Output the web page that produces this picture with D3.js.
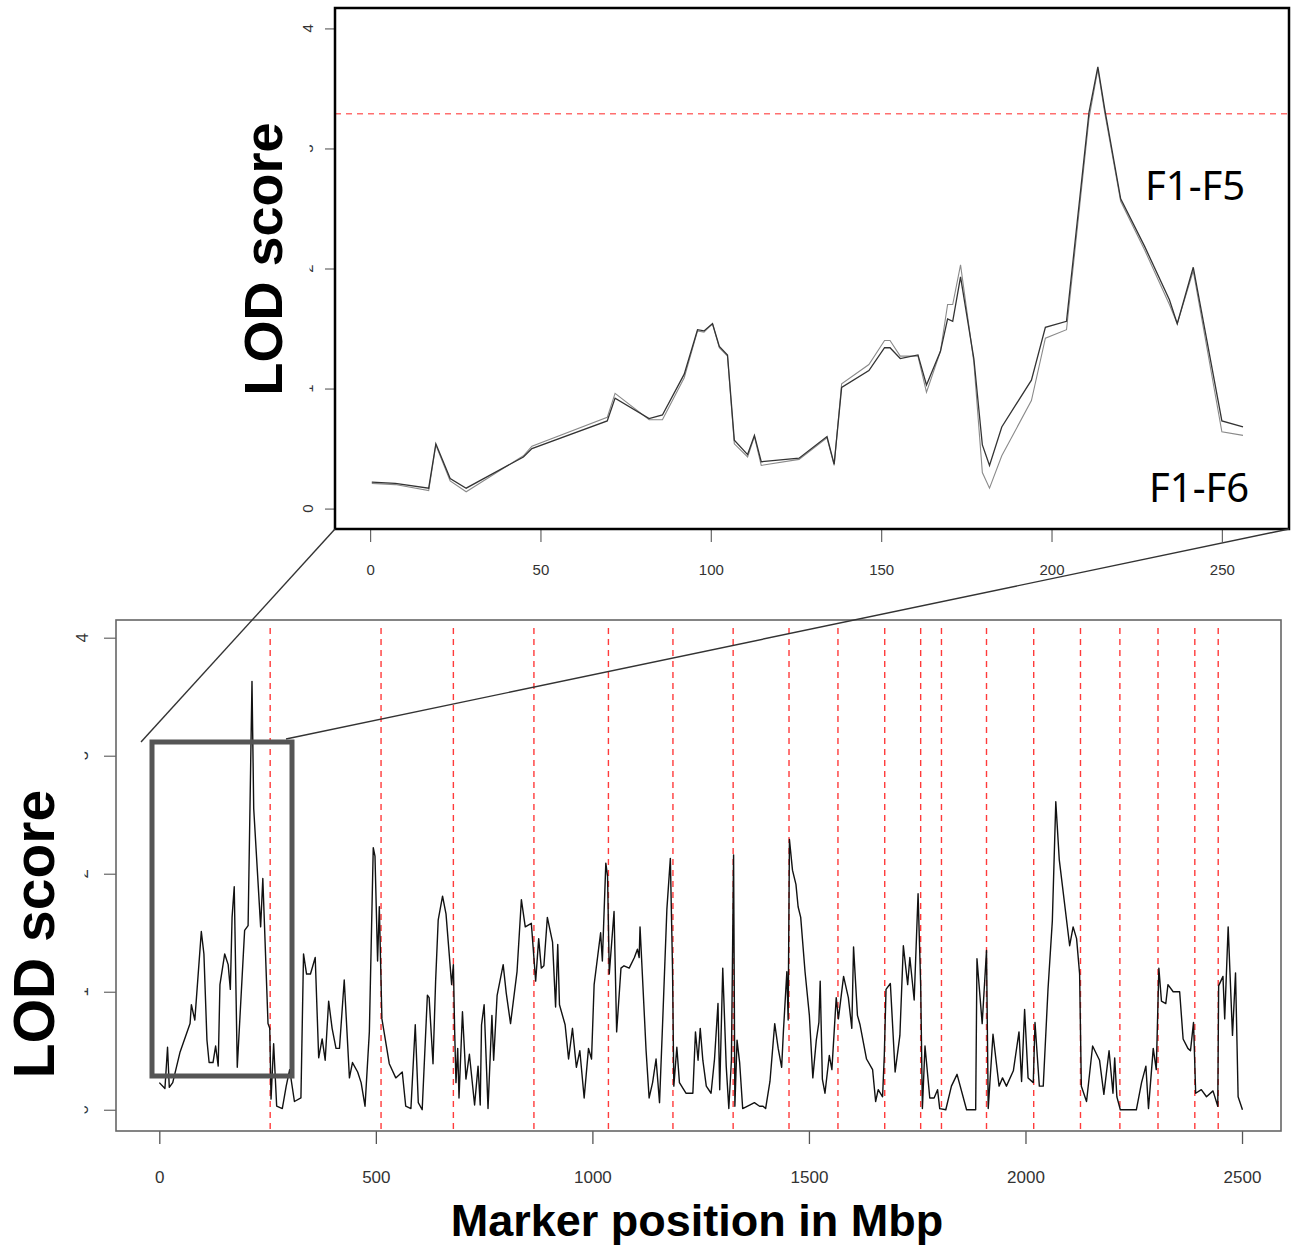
<!DOCTYPE html>
<html>
<head>
<meta charset="utf-8">
<script src="https://cdn.jsdelivr.net/npm/d3@7"></script>
<style>
  body { margin: 0; background: #fff; }
  svg { display: block; }
  .tick text { font-family: "Liberation Sans", Arial, sans-serif; fill: #333; }
</style>
</head>
<body>
<div id="chart"></div>
<script>
// Zoomed view, first 260 Mbp (two generations compared)
const zoomPos = [0.5, 7.4, 17.2, 19.3, 23.5, 28.2, 45, 47.5, 69.6, 71.9, 81.9, 85.8, 92.2, 96.1, 98, 100.5,
  102.5, 104.9, 106.9, 110.8, 112.8, 114.8, 125.9, 134.1, 136.2, 138.4, 146.4, 151, 152.6, 155.6, 160.8,
  163.3, 167.4, 169.5, 171, 173.3, 177.2, 179.7, 181.8, 185.4, 194.1, 198.2, 204.4, 211, 213.6, 215.6,
  220.3, 227.4, 234.6, 236.9, 241.6, 250, 256.2];
const lodF5 = [0.22, 0.21, 0.17, 0.54, 0.25, 0.17, 0.43, 0.50, 0.73, 0.92, 0.75, 0.78, 1.12, 1.49, 1.48, 1.54,
  1.35, 1.28, 0.57, 0.45, 0.61, 0.39, 0.42, 0.60, 0.37, 1.01, 1.15, 1.34, 1.34, 1.25, 1.28,
  1.03, 1.31, 1.58, 1.56, 1.93, 1.25, 0.53, 0.36, 0.68, 1.07, 1.51, 1.56, 3.30, 3.68, 3.33,
  2.58, 2.18, 1.74, 1.54, 2.01, 0.73, 0.68];
const lodF6 = [0.21, 0.20, 0.15, 0.53, 0.23, 0.14, 0.44, 0.52, 0.76, 0.96, 0.74, 0.74, 1.09, 1.48, 1.47, 1.54,
  1.34, 1.27, 0.54, 0.43, 0.60, 0.36, 0.41, 0.59, 0.36, 1.04, 1.20, 1.40, 1.40, 1.27, 1.27,
  0.97, 1.31, 1.70, 1.70, 2.03, 1.22, 0.30, 0.17, 0.44, 0.90, 1.42, 1.49, 3.25, 3.66, 3.30,
  2.56, 2.15, 1.70, 1.54, 1.98, 0.64, 0.61];
const threshold = 3.29;

// Whole genome scan
const genomePos = [0, 13, 19, 23, 31, 48, 71, 74, 82, 97, 103, 110, 115, 124, 130, 136, 140, 151, 159, 164, 168,
  173, 180, 197, 205, 214, 218, 234, 239, 251, 255, 258, 264, 271, 284, 293, 301, 312, 327, 333, 340, 349,
  360, 368, 376, 383, 391, 399, 408, 416, 427, 439, 446, 458, 466, 475, 485, 494, 498, 504, 508, 514, 531,
  546, 561, 569, 581, 591, 598, 607, 619, 623, 632, 638, 644, 654, 662, 675, 679, 682, 685, 689, 692, 700,
  708, 716, 728, 736, 741, 744, 750, 759, 768, 772, 780, 794, 801, 811, 826, 836, 845, 859, 869, 876, 882,
  888, 896, 908, 915, 920, 924, 937, 945, 954, 963, 971, 981, 991, 998, 1004, 1019, 1023, 1031, 1035, 1039,
  1050, 1056, 1066, 1073, 1085, 1097, 1104, 1108, 1110, 1124, 1131, 1139, 1147, 1155, 1162, 1172, 1180,
  1185, 1188, 1195, 1201, 1216, 1232, 1238, 1244, 1249, 1255, 1263, 1274, 1282, 1290, 1294, 1301, 1309,
  1315, 1321, 1326, 1329, 1334, 1340, 1347, 1363, 1374, 1386, 1394, 1400, 1410, 1421, 1429, 1437, 1441,
  1449, 1452, 1455, 1462, 1470, 1475, 1481, 1491, 1501, 1509, 1517, 1523, 1526, 1531, 1537, 1547, 1553,
  1563, 1568, 1580, 1591, 1599, 1603, 1612, 1618, 1633, 1647, 1654, 1660, 1670, 1674, 1678, 1688, 1699,
  1710, 1718, 1728, 1733, 1743, 1752, 1758, 1762, 1768, 1779, 1789, 1797, 1802, 1816, 1829, 1842, 1864,
  1885, 1888, 1900, 1910, 1914, 1925, 1939, 1947, 1956, 1972, 1985, 1991, 1998, 2006, 2018, 2022, 2032,
  2041, 2052, 2062, 2070, 2078, 2102, 2110, 2118, 2125, 2129, 2141, 2155, 2171, 2181, 2193, 2202, 2206,
  2211, 2219, 2256, 2268, 2278, 2284, 2295, 2302, 2308, 2314, 2324, 2329, 2341, 2356, 2364, 2375, 2381,
  2388, 2393, 2406, 2418, 2433, 2444, 2446, 2456, 2460, 2468, 2478, 2485, 2491, 2501];
const genomeLod = [0.23, 0.18, 0.53, 0.19, 0.23, 0.49, 0.73, 0.89, 0.76, 1.51, 1.32, 0.59, 0.40, 0.40, 0.54, 0.37,
  1.06, 1.32, 1.23, 1.02, 1.63, 1.89, 0.36, 1.52, 1.56, 3.63, 2.55, 1.55, 1.96, 0.73, 0.69, 0.09, 0.56, 0.03,
  0.01, 0.20, 0.34, 0.07, 0.10, 1.32, 1.15, 1.15, 1.29, 0.44, 0.60, 0.42, 0.92, 0.69, 0.52, 0.52, 1.10, 0.27,
  0.40, 0.32, 0.23, 0.03, 0.66, 2.22, 2.15, 1.26, 1.72, 0.77, 0.39, 0.27, 0.32, 0.03, 0.01, 0.72, 0.06, 0.00,
  0.97, 0.95, 0.39, 1.09, 1.61, 1.81, 1.66, 1.06, 1.23, 0.66, 0.23, 0.52, 0.10, 0.83, 0.26, 0.47, 0.04, 0.37,
  0.04, 0.72, 0.89, 0.01, 0.80, 0.42, 0.97, 1.23, 0.99, 0.73, 1.17, 1.78, 1.55, 1.58, 1.09, 1.45, 1.20, 1.22,
  1.63, 1.42, 0.87, 1.40, 0.89, 0.72, 0.43, 0.69, 0.36, 0.50, 0.10, 0.52, 0.43, 1.06, 1.50, 1.26, 2.09, 1.98,
  1.15, 1.68, 0.66, 1.20, 1.22, 1.20, 1.29, 1.36, 1.29, 1.55, 0.50, 0.10, 0.23, 0.43, 0.06, 0.72, 1.70, 2.13,
  1.20, 0.20, 0.53, 0.23, 0.14, 0.14, 0.66, 0.42, 0.69, 0.42, 0.20, 0.14, 0.43, 0.90, 0.17, 1.20, 0.37, 0.01,
  0.42, 2.16, 0.03, 0.59, 0.40, 0.01, 0.04, 0.06, 0.03, 0.03, 0.01, 0.24, 0.73, 0.52, 0.36, 0.66, 1.17, 0.76,
  2.29, 2.03, 1.91, 1.72, 1.63, 1.17, 0.80, 0.27, 0.59, 0.74, 1.09, 0.26, 0.14, 0.46, 0.34, 0.95, 0.77, 1.13,
  0.95, 0.69, 1.38, 0.80, 0.72, 0.43, 0.34, 0.07, 0.17, 0.11, 0.46, 1.02, 1.07, 0.32, 0.63, 1.39, 1.06, 1.29,
  0.93, 1.83, 1.06, 0.01, 0.54, 0.10, 0.10, 0.17, 0.01, 0.00, 0.20, 0.30, 0.00, 0.00, 1.28, 0.73, 1.35, 0.01,
  0.64, 0.20, 0.27, 0.20, 0.33, 0.66, 0.24, 0.85, 0.27, 0.23, 0.74, 0.20, 0.20, 1.02, 1.60, 2.61, 2.12, 1.39,
  1.55, 1.45, 1.15, 0.20, 0.07, 0.54, 0.42, 0.13, 0.50, 0.14, 0.44, 0.11, 0.00, 0.00, 0.23, 0.37, 0.01, 0.52,
  0.34, 1.20, 0.92, 0.90, 1.06, 1.00, 1.00, 0.60, 0.52, 0.50, 0.74, 0.14, 0.17, 0.11, 0.16, 0.03, 1.05, 1.13,
  0.77, 1.55, 0.63, 1.16, 0.11, 0.00];

// chromosome boundaries (Mbp)
const chromBreaks = [256, 512, 679, 865, 1037, 1186, 1325, 1454, 1567, 1675, 1758, 1806, 1910, 2019, 2127,
  2218, 2306, 2391, 2445];

const zoomTicks = [0, 50, 100, 150, 200, 250];
const genomeTicks = [0, 500, 1000, 1500, 2000, 2500];
const lodTicks = [0, 1, 2, 3, 4];

const W = 1296, H = 1245;
const svg = d3.select('#chart').append('svg')
  .attr('width', W).attr('height', H);
svg.append('rect').attr('width', W).attr('height', H).attr('fill', '#fff');

const defs = svg.append('defs');

// rotated y tick labels; some are only partly visible in the figure
function yLabels(g, yScale, baseX, size, partial, id) {
  lodTicks.forEach((t) => {
    const y = yScale(t);
    let holder = g;
    if (partial.includes(t)) {
      const cid = `clip-${id}-${t}`;
      defs.append('clipPath').attr('id', cid)
        .append('rect').attr('x', baseX - 3.5).attr('y', y - 8).attr('width', 5).attr('height', 16);
      holder = g.append('g').attr('clip-path', `url(#${cid})`);
    }
    holder.append('text')
      .attr('transform', `translate(${baseX},${y}) rotate(-90)`)
      .attr('text-anchor', 'middle')
      .attr('font-family', '"Liberation Sans", Arial, sans-serif')
      .attr('font-size', size)
      .attr('fill', '#333')
      .text(t);
  });
}

// ---------- top (zoomed) panel ----------
const topBox = { left: 335, right: 1289, top: 8, bottom: 529 };
const xTop = d3.scaleLinear().domain([-10.3, 269.7]).range([topBox.left, topBox.right]);
const yTop = d3.scaleLinear().domain([-0.17, 4.17]).range([topBox.bottom, topBox.top]);

const gTop = svg.append('g');

gTop.append('line')
  .attr('x1', topBox.left).attr('x2', topBox.right)
  .attr('y1', yTop(threshold)).attr('y2', yTop(threshold))
  .attr('stroke', '#ff6f6f').attr('stroke-width', 1.5).attr('stroke-dasharray', '6,5');

const lineTop = d3.line().x((d) => xTop(d[0])).y((d) => yTop(d[1]));
gTop.append('path')
  .datum(zoomPos.map((p, i) => [p, lodF6[i]]))
  .attr('d', lineTop).attr('fill', 'none')
  .attr('stroke', '#8a8a8a').attr('stroke-width', 1.1);
gTop.append('path')
  .datum(zoomPos.map((p, i) => [p, lodF5[i]]))
  .attr('d', lineTop).attr('fill', 'none')
  .attr('stroke', '#333').attr('stroke-width', 1.3);

gTop.append('g')
  .attr('transform', `translate(0,${topBox.bottom})`)
  .call(d3.axisBottom(xTop).tickValues(zoomTicks).tickSize(13).tickPadding(22).tickFormat(d3.format('d')))
  .call((g) => g.select('.domain').remove())
  .call((g) => g.selectAll('line').attr('stroke', '#666').attr('stroke-width', 1.2))
  .call((g) => g.selectAll('text').attr('font-size', 15));

gTop.append('g')
  .attr('transform', `translate(${topBox.left},0)`)
  .call(d3.axisLeft(yTop).tickValues(lodTicks).tickSize(10).tickFormat(''))
  .call((g) => g.select('.domain').remove())
  .call((g) => g.selectAll('line').attr('stroke', '#666').attr('stroke-width', 1.2));
yLabels(gTop, yTop, 313, 15, [1, 2, 3], 'top');

gTop.append('rect')
  .attr('x', topBox.left).attr('y', topBox.top)
  .attr('width', topBox.right - topBox.left).attr('height', topBox.bottom - topBox.top)
  .attr('fill', 'none').attr('stroke', '#000').attr('stroke-width', 2.5);

gTop.append('text')
  .attr('transform', `translate(282,259) rotate(-90)`)
  .attr('text-anchor', 'middle')
  .attr('font-family', '"Liberation Sans", Arial, sans-serif')
  .attr('font-weight', 'bold').attr('font-size', 54)
  .text('LOD score');

gTop.append('text').attr('x', 1145).attr('y', 200)
  .attr('font-family', '"Noto Sans", sans-serif').attr('font-size', 40)
  .text('F1-F5');
gTop.append('text').attr('x', 1149).attr('y', 502)
  .attr('font-family', '"Noto Sans", sans-serif').attr('font-size', 40)
  .text('F1-F6');

// ---------- bottom (genome) panel ----------
const botBox = { left: 116, right: 1281, top: 620, bottom: 1131 };
const xBot = d3.scaleLinear().domain([-100, 2590]).range([botBox.left, botBox.right]);
const yBot = d3.scaleLinear().domain([-0.18, 4.15]).range([botBox.bottom, botBox.top]);

const gBot = svg.append('g');

gBot.selectAll('line.chrom')
  .data(chromBreaks)
  .join('line')
  .attr('class', 'chrom')
  .attr('x1', (d) => xBot(d)).attr('x2', (d) => xBot(d))
  .attr('y1', botBox.top + 8).attr('y2', botBox.bottom)
  .attr('stroke', '#ff3b3b').attr('stroke-width', 1.4).attr('stroke-dasharray', '6,5');

gBot.append('path')
  .datum(genomePos.map((p, i) => [p, genomeLod[i]]))
  .attr('d', d3.line().x((d) => xBot(d[0])).y((d) => yBot(d[1])))
  .attr('fill', 'none').attr('stroke', '#111').attr('stroke-width', 1.4)
  .attr('stroke-linejoin', 'round');

gBot.append('g')
  .attr('transform', `translate(0,${botBox.bottom})`)
  .call(d3.axisBottom(xBot).tickValues(genomeTicks).tickSize(13).tickPadding(27).tickFormat(d3.format('d')))
  .call((g) => g.select('.domain').remove())
  .call((g) => g.selectAll('line').attr('stroke', '#555').attr('stroke-width', 1.3))
  .call((g) => g.selectAll('text').attr('font-size', 17));

gBot.append('g')
  .attr('transform', `translate(${botBox.left},0)`)
  .call(d3.axisLeft(yBot).tickValues(lodTicks).tickSize(12).tickFormat(''))
  .call((g) => g.select('.domain').remove())
  .call((g) => g.selectAll('line').attr('stroke', '#666').attr('stroke-width', 1.2));
yLabels(gBot, yBot, 88, 17, [0, 1, 2, 3], 'bot');

gBot.append('rect')
  .attr('x', botBox.left).attr('y', botBox.top)
  .attr('width', botBox.right - botBox.left).attr('height', botBox.bottom - botBox.top)
  .attr('fill', 'none').attr('stroke', '#666').attr('stroke-width', 1.6);

gBot.append('text')
  .attr('transform', `translate(54,934) rotate(-90)`)
  .attr('text-anchor', 'middle')
  .attr('font-family', '"Liberation Sans", Arial, sans-serif')
  .attr('font-weight', 'bold').attr('font-size', 57)
  .text('LOD score');

gBot.append('text')
  .attr('x', 697).attr('y', 1236)
  .attr('text-anchor', 'middle')
  .attr('font-family', '"Liberation Sans", Arial, sans-serif')
  .attr('font-weight', 'bold').attr('font-size', 45)
  .text('Marker position in Mbp');

// zoom window and connectors
const boxL = 152, boxR = 292, boxT = 742, boxB = 1076;
svg.append('line')
  .attr('x1', 141).attr('y1', boxT).attr('x2', topBox.left).attr('y2', topBox.bottom)
  .attr('stroke', '#333').attr('stroke-width', 1.4);
svg.append('line')
  .attr('x1', boxR - 6).attr('y1', boxT - 3).attr('x2', topBox.right).attr('y2', topBox.bottom)
  .attr('stroke', '#333').attr('stroke-width', 1.4);
svg.append('rect')
  .attr('x', boxL).attr('y', boxT)
  .attr('width', boxR - boxL).attr('height', boxB - boxT)
  .attr('fill', 'none').attr('stroke', '#555').attr('stroke-width', 5);
</script>
</body>
</html>
